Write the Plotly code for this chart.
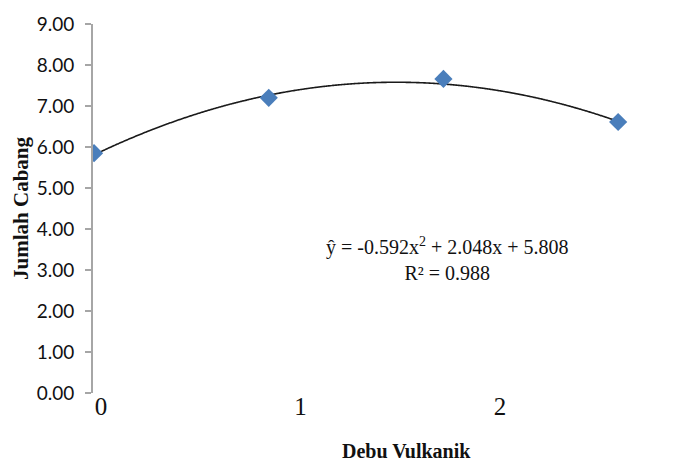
import numpy as np
import plotly.graph_objects as go

# Data
dose_index = [0, 1, 2, 3]
jumlah_cabang = [5.85, 7.20, 7.66, 6.61]
axis_tick_labels = ["0", "1", "2", "3"]
axis_tick_values = [0, 1, 2, 3]
y_tick_values = [0, 1, 2, 3, 4, 5, 6, 7, 8, 9]
trend_coef = [-0.592, 2.048, 5.808]   # ŷ = a x² + b x + c
equation_text = "ŷ = -0.592x<sup>2</sup> + 2.048x + 5.808<br>R² = 0.988"

xs = np.linspace(dose_index[0], dose_index[-1], 400)
ys = np.polyval(trend_coef, xs)

fig = go.Figure()
# empty trace so the label axis is drawn
fig.add_trace(go.Scatter(x=[], y=[], xaxis="x2", mode="markers",
                         showlegend=False, hoverinfo="skip"))
fig.add_trace(go.Scatter(
    x=xs, y=ys, mode="lines", xaxis="x",
    line=dict(color="#1a1a1a", width=1.6, shape="spline"),
    hoverinfo="skip", showlegend=False))
fig.add_trace(go.Scatter(
    x=dose_index, y=jumlah_cabang, mode="markers", xaxis="x",
    marker=dict(symbol="diamond", size=14, color="#4a7ebb"), showlegend=False))

fig.update_layout(
    width=676, height=451,
    margin=dict(l=85, r=0, t=16, b=66, autoexpand=False),
    paper_bgcolor="white", plot_bgcolor="white",
    xaxis=dict(
        range=[-0.006, 3.377], visible=False, automargin=False,
    ),
    xaxis2=dict(
        range=[-0.040, 2.922], overlaying="x", anchor="y", side="bottom",
        tickmode="array", tickvals=axis_tick_values, ticktext=axis_tick_labels,
        showline=False, showgrid=False, zeroline=False, ticks="",
        automargin=False, ticklabelstandoff=-4,
        tickfont=dict(family="Liberation Serif", size=25, color="#111"),
    ),
    yaxis=dict(
        range=[0, 9], tickmode="array", tickvals=y_tick_values,
        tickformat=".2f", automargin=False, ticklabelstandoff=7,
        showline=True, linecolor="#a6a6a6", linewidth=2,
        ticks="outside", ticklen=6, tickcolor="#a6a6a6", tickwidth=1.5,
        showgrid=False, zeroline=False,
        tickfont=dict(family="Lato", size=19, color="#111"),
        title=dict(text="<b>Jumlah Cabang</b>", standoff=2,
                   font=dict(family="Liberation Serif", size=21, color="#111")),
    ),
    annotations=[
        dict(text=equation_text, xref="paper", yref="paper", x=0.599, y=0.362,
             showarrow=False, align="center",
             font=dict(family="Liberation Serif", size=20, color="#111")),
        dict(text="<b>Debu Vulkanik</b>", xref="paper", yref="paper",
             x=0.530, y=-0.158, yanchor="middle", showarrow=False,
             font=dict(family="Liberation Serif", size=20, color="#111")),
    ],
)

fig.write_html("out.html")
